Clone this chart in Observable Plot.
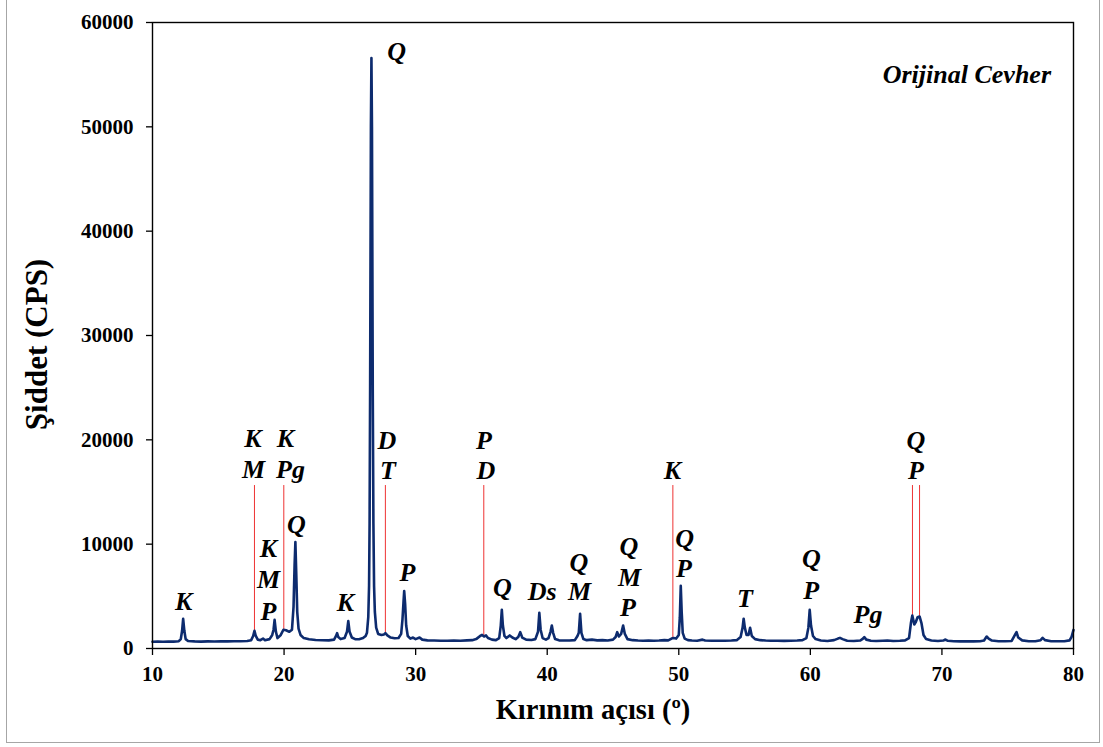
<!DOCTYPE html>
<html>
<head>
<meta charset="utf-8">
<script src="https://cdn.jsdelivr.net/npm/d3@7"></script>
<script src="https://cdn.jsdelivr.net/npm/@observablehq/plot@0.6"></script>
<style>
  html, body { margin: 0; padding: 0; background: #fff; overflow: hidden; }
  #wrap { position: relative; width: 1103px; height: 747px; }
  #border { position: absolute; left: 6px; top: -3px; width: 1094px; height: 746px; border: 1.5px solid #a6a6a6; box-sizing: border-box; pointer-events: none; }
  #chart { position: absolute; left: 0; top: 0; }
</style>
</head>
<body>
<div id="wrap"><div id="chart"></div><div id="border"></div></div>
<script>
// XRD scan: [2θ angle, intensity CPS]
const scan = [
  [10.0,640],[10.4,660],[10.8,650],[11.2,670],[11.6,660],[12.0,700],[12.15,900],[12.25,1700],[12.33,2850],[12.42,1700],[12.52,900],[12.7,720],
  [13.2,680],[13.7,660],[14.2,680],[14.7,670],[15.2,690],[15.7,680],[16.2,700],[16.7,690],[17.2,720],[17.5,800],[17.65,1200],[17.75,1700],[17.85,1200],
  [18.0,850],[18.2,800],[18.4,950],[18.55,800],[18.9,900],[19.1,1300],[19.2,1800],[19.28,2750],[19.38,1600],[19.5,1000],[19.75,1300],[19.95,1800],
  [20.15,1750],[20.4,1600],[20.6,1800],[20.72,4000],[20.8,8000],[20.86,10200],[20.93,7000],[21.0,3500],[21.1,1900],[21.25,1300],[21.5,1000],
  [21.9,880],[22.4,820],[22.9,790],[23.4,780],[23.8,850],[23.95,1200],[24.03,1470],[24.12,1100],[24.3,900],[24.6,1000],[24.78,1600],[24.88,2620],
  [24.98,1600],[25.15,1050],[25.4,900],[25.7,880],[26.0,1000],[26.2,1200],[26.3,1500],[26.4,3000],[26.46,6000],[26.5,12000],[26.54,25000],
  [26.6,50000],[26.64,56600],[26.68,50000],[26.74,25000],[26.79,12000],[26.84,6000],[26.9,3500],[27.0,2000],[27.15,1400],[27.4,1300],
  [27.6,1350],[27.7,1470],[27.85,1250],[28.1,1050],[28.4,980],[28.7,1000],[28.9,1400],[29.0,2800],[29.08,4500],[29.13,5500],[29.2,4300],
  [29.28,2200],[29.4,1200],[29.6,950],[29.8,1050],[30.0,900],[30.3,1050],[30.5,850],[30.9,780],[31.4,760],[31.9,750],[32.4,740],[32.9,760],
  [33.4,750],[33.9,780],[34.3,800],[34.6,900],[34.9,1200],[35.05,1300],[35.2,1150],[35.35,1250],[35.5,1000],[35.8,850],[36.1,800],[36.35,1000],
  [36.47,2200],[36.55,3700],[36.63,2200],[36.75,1200],[36.9,1000],[37.15,1250],[37.35,1050],[37.6,900],[37.8,1100],[37.95,1570],[38.1,1050],
  [38.4,850],[38.8,820],[39.1,900],[39.3,1600],[39.4,3420],[39.5,1800],[39.65,1000],[39.9,850],[40.1,1000],[40.25,1600],[40.35,2200],[40.45,1500],
  [40.6,900],[40.9,780],[41.3,760],[41.7,760],[42.1,800],[42.3,1200],[42.4,1500],[42.5,3320],[42.6,1500],[42.75,900],[43.0,800],[43.4,850],
  [43.8,780],[44.2,800],[44.6,760],[45.0,850],[45.2,1100],[45.32,1570],[45.45,1150],[45.62,1400],[45.77,2200],[45.9,1400],[46.1,900],[46.5,800],
  [46.9,760],[47.3,750],[47.7,760],[48.1,750],[48.5,760],[48.9,800],[49.2,780],[49.45,950],[49.6,1000],[49.8,950],[50.0,1300],[50.08,3000],
  [50.15,6000],[50.22,3500],[50.3,1500],[50.45,950],[50.7,800],[51.0,760],[51.4,750],[51.8,850],[52.0,760],[52.5,750],[53.0,740],[53.5,750],
  [54.0,760],[54.4,800],[54.7,1100],[54.85,2000],[54.93,2850],[55.02,2000],[55.15,1300],[55.3,1300],[55.42,1980],[55.55,1200],[55.8,900],
  [56.2,800],[56.6,760],[57.0,750],[57.5,740],[58.0,730],[58.5,740],[59.0,760],[59.4,800],[59.7,1000],[59.85,2000],[59.95,3700],[60.05,2200],
  [60.2,1200],[60.4,900],[60.8,760],[61.3,720],[61.8,800],[62.1,950],[62.25,1020],[62.45,900],[62.8,740],[63.3,720],[63.8,760],[64.0,950],
  [64.1,1090],[64.25,850],[64.6,740],[65.0,720],[65.5,740],[65.85,760],[66.3,720],[66.8,740],[67.2,780],[67.5,1000],[67.65,2500],[67.75,3160],
  [67.9,2300],[68.0,2500],[68.15,3000],[68.3,3070],[68.45,2400],[68.6,1300],[68.8,900],[69.2,760],[69.7,720],[70.1,760],[70.27,860],[70.45,740],
  [70.9,700],[71.4,680],[71.9,690],[72.4,680],[72.9,700],[73.2,760],[73.4,1150],[73.55,950],[73.8,760],[74.3,700],[74.8,690],[75.3,720],
  [75.55,1300],[75.67,1570],[75.8,1050],[76.1,780],[76.6,700],[77.1,700],[77.5,800],[77.65,1020],[77.85,800],[78.3,700],[78.8,690],[79.3,700],
  [79.7,780],[79.85,1100],[80.0,1780]
];

// red reference lines: angle, lower end (CPS), upper end (CPS)
const refAngle  = [17.75, 19.98, 27.7, 35.18, 49.55, 67.76, 68.3];
const refBottom = [1700, 1800, 1470, 1200, 1000, 3160, 3070];
const refTop    = [15620, 15620, 15620, 15620, 15620, 15620, 15620];

// phase labels: text, angle, CPS (centre of each line of text)
const labelText  = ["K","K","M","K","Pg","K","M","P","Q","K","Q","D","T","P","P","D","Q","Ds","Q","M","Q","M","P","K","Q","P","T","Q","P","Pg","Q","P"];
const labelAngle = [12.36,17.64,17.68,20.11,20.49,18.82,18.82,18.82,20.94,24.67,28.55,27.82,27.9,29.38,35.2,35.33,36.6,39.62,42.4,42.45,46.2,46.25,46.14,49.52,50.45,50.4,55.03,60.07,60.07,64.38,68.03,68.03];
const labelCps   = [4505,20130,17160,20130,17160,9590,6640,3550,11880,4410,57220,19890,17010,7240,19940,17010,5850,5415,8240,5415,9780,6800,3880,17060,10540,7670,4745,8650,5560,3260,19940,17010];

const xTicks = [10,20,30,40,50,60,70,80];
const yTicks = [0,10000,20000,30000,40000,50000,60000];

const titleText = "Orijinal Cevher";
const xTitle = "Kırınım açısı (º)";
const yTitle = "Şiddet (CPS)";

const refs = refAngle.map((a, i) => ({a, lo: refBottom[i], hi: refTop[i]}));
const labels = labelText.map((t, i) => ({t, a: labelAngle[i], c: labelCps[i]}));

const FONT = "'Liberation Serif', 'Times New Roman', serif";
const navy = "#0d2b6e";

const chart = Plot.plot({
  width: 1103,
  height: 747,
  marginLeft: 152,
  marginRight: 30,
  marginTop: 22,
  marginBottom: 99,
  style: {fontFamily: FONT, background: "transparent", overflow: "visible"},
  x: {domain: [10, 80]},
  y: {domain: [0, 60000]},
  marks: [
    Plot.ruleX(refs, {x: "a", y1: "lo", y2: "hi", stroke: "#ee3333", strokeWidth: 1}),
    Plot.line(scan, {x: d => d[0], y: d => d[1], stroke: navy, strokeWidth: 2.6, strokeLinejoin: "round"}),
    Plot.frame({stroke: "#000", strokeWidth: 1.4}),
    Plot.axisX({ticks: xTicks, tickSize: 7, tickPadding: 11, label: null, fontSize: 21, fontWeight: "bold", fill: "#000", stroke: "#000", strokeWidth: 1.3}),
    Plot.axisY({ticks: yTicks, tickSize: 6, tickPadding: 13, label: null, tickFormat: d3.format("d"), fontSize: 21, fontWeight: "bold", fill: "#000", stroke: "#000", strokeWidth: 1.3}),
    Plot.text(labels, {x: "a", y: "c", text: "t", fontSize: 26, fontWeight: "bold", fontStyle: "italic", fill: "#000"}),
    Plot.text([titleText], {x: 78.29, y: 55020, text: d => d, textAnchor: "end", fontSize: 26, fontWeight: "bold", fontStyle: "italic", fill: "#000"}),
    Plot.text([xTitle], {frameAnchor: "bottom", text: d => d, textAnchor: "middle", dx: -20, dy: 70, fontSize: 28.5, fontWeight: "bold", fill: "#000"}),
    Plot.text([yTitle], {frameAnchor: "left", text: d => d, textAnchor: "middle", rotate: -90, dx: -115, dy: 9, fontSize: 31, fontWeight: "bold", fill: "#000"})
  ]
});
document.getElementById("chart").appendChild(chart);
</script>
</body>
</html>
